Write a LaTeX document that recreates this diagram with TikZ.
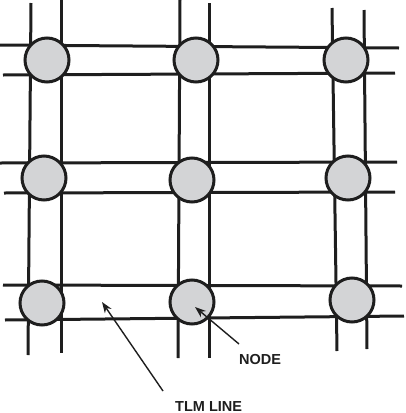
\documentclass[tikz,border=0pt]{standalone}
\usepackage{fontspec}
\setmainfont{Liberation Sans}
\usetikzlibrary{arrows.meta}
\definecolor{nodegray}{HTML}{D3D4D6}
\definecolor{ink}{HTML}{1E1E1E}
\begin{document}
\begin{tikzpicture}[x=1pt,y=-1pt,
  tline/.style={line width=3pt,draw=ink},
  tlmnode/.style={circle,draw=ink,line width=3pt,fill=nodegray,minimum size=44pt,inner sep=0pt},
  callout/.style={line width=1.4pt,draw=ink,-{Stealth[length=11pt,width=8pt]}},
  lbl/.style={font=\fontsize{14.5pt}{16pt}\selectfont\bfseries,text=ink,inner sep=0pt}]
\useasboundingbox (0,0) rectangle (405,413);
% vertical lines
\draw[tline] (31,3) -- (28,355);
\draw[tline] (61,0) -- (61,353);
\draw[tline] (180,0) -- (178,358);
\draw[tline] (209,3) -- (209,358);
\draw[tline] (332,8) -- (337,351);
\draw[tline] (364,10) -- (367,349);
% horizontal lines
\draw[tline] (0,45) -- (399,48);
\draw[tline] (3,75) -- (395,73);
\draw[tline] (0,163) -- (397,162);
\draw[tline] (4,193) -- (395,192);
\draw[tline] (3,285) -- (402,286);
\draw[tline] (5,320) -- (404,316);
% nodes
\node[tlmnode] (n11) at (47,60) {};
\node[tlmnode] (n12) at (196,60) {};
\node[tlmnode] (n13) at (346,60) {};
\node[tlmnode] (n21) at (44,178) {};
\node[tlmnode] (n22) at (192,180) {};
\node[tlmnode] (n23) at (348,178) {};
\node[tlmnode] (n31) at (42,303) {};
\node[tlmnode] (n32) at (192,302) {};
\node[tlmnode] (n33) at (352,300) {};
% labels
\node[lbl,anchor=base west] (nodelbl) at (239,364) {NODE};
\node[lbl,anchor=base west] (tlmlbl) at (175,411) {TLM LINE};
\coordinate (nodetail) at (239,344);
\coordinate (nodetip) at (195,307);
\coordinate (tlmtail) at (163,391);
\coordinate (tlmtip) at (102,302);
\draw[callout] (nodetail) -- (nodetip);
\draw[callout] (tlmtail) -- (tlmtip);
\end{tikzpicture}
\end{document}
